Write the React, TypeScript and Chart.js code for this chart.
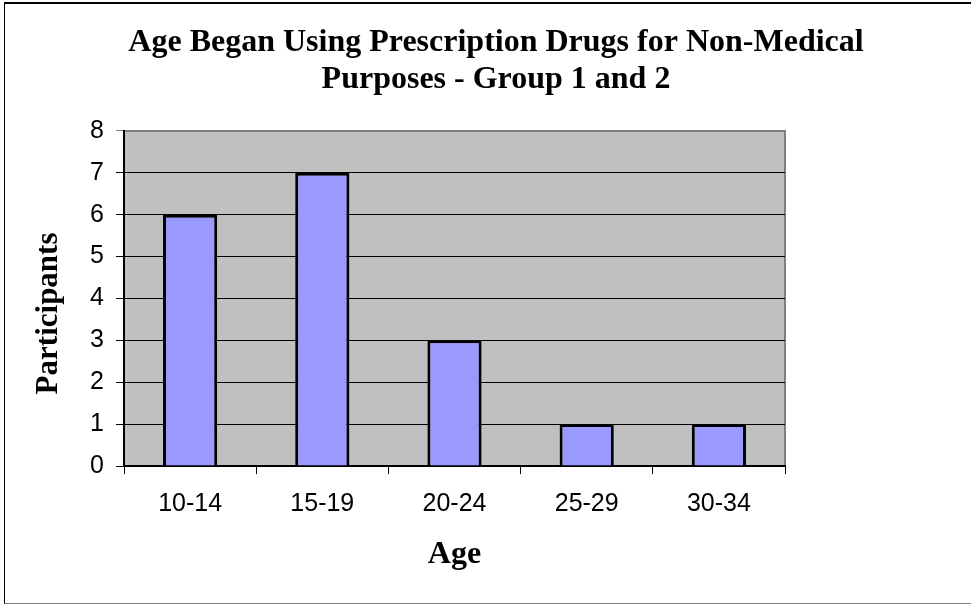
import React, { useEffect, useRef } from "react";
import { Chart, registerables } from "chart.js";

Chart.register(...registerables);

const categories = ["10-14", "15-19", "20-24", "25-29", "30-34"];
const participants = [6, 7, 3, 1, 1];
const yTicks = [0, 1, 2, 3, 4, 5, 6, 7, 8];
const titleLines = ["Age Began Using Prescription Drugs for Non-Medical", "Purposes - Group 1 and 2"];
const xTitle = "Age";
const yTitle = "Participants";

const SERIF = "'Liberation Serif', 'Times New Roman', serif";
const SANS = "'Liberation Sans', Arial, sans-serif";

const plotBg = {
  id: "plotBg",
  beforeDraw(chart: any) {
    const { ctx, chartArea } = chart;
    if (!chartArea) return;
    ctx.save();
    ctx.fillStyle = "#C0C0C0";
    ctx.fillRect(chartArea.left, chartArea.top, chartArea.right - chartArea.left, chartArea.bottom - chartArea.top);
    ctx.strokeStyle = "#808080";
    ctx.lineWidth = 2;
    ctx.beginPath();
    ctx.moveTo(chartArea.left, chartArea.top);
    ctx.lineTo(chartArea.right, chartArea.top);
    ctx.lineTo(chartArea.right, chartArea.bottom);
    ctx.stroke();
    ctx.restore();
  },
};

const yTitlePlugin = {
  id: "yTitlePlugin",
  afterDraw(chart: any) {
    const { ctx, chartArea } = chart;
    if (!chartArea) return;
    ctx.save();
    ctx.translate(49, (chartArea.top + chartArea.bottom) / 2 + 15);
    ctx.rotate(-Math.PI / 2);
    ctx.fillStyle = "#000";
    ctx.font = `bold 31px ${SERIF}`;
    ctx.textAlign = "center";
    ctx.textBaseline = "middle";
    ctx.fillText(yTitle, 0, 0);
    ctx.restore();
  },
};

export default function App() {
  const ref = useRef<HTMLCanvasElement>(null);
  useEffect(() => {
    const canvas = ref.current;
    if (!canvas) return;
    const chart = new Chart(canvas, {
      type: "bar",
      data: {
        labels: categories,
        datasets: [
          {
            data: participants,
            backgroundColor: "#9999FF",
            borderColor: "#000000",
            borderWidth: 3,
            categoryPercentage: 1,
            barPercentage: 0.41,
            yAxisID: "y",
          },
        ],
      },
      options: {
        animation: false,
        responsive: false,
        maintainAspectRatio: false,
        layout: { padding: { left: 21, right: 0, top: 0, bottom: 0 } },
        plugins: {
          legend: { display: false },
          tooltip: { enabled: false },
          title: {
            display: true,
            text: titleLines,
            color: "#000",
            font: { family: SERIF, size: 32, weight: "bold", lineHeight: 1.17 },
            padding: { top: 24, bottom: 32 },
          },
        },
        scales: {
          x: {
            grid: {
              offset: true,
              drawOnChartArea: false,
              drawTicks: true,
              tickLength: 8,
              color: "#000",
              lineWidth: 1,
            },
            border: { display: true, color: "#000", width: 2 },
            ticks: {
              color: "#000",
              padding: 15,
              font: { family: SANS, size: 25 },
            },
            title: {
              display: true,
              text: xTitle,
              color: "#000",
              font: { family: SERIF, size: 32, weight: "bold" },
              padding: { top: 0, bottom: 31 },
            },
            afterFit: (s: any) => {
              s.height = 139;
            },
          },
          y: {
            min: 0,
            max: 8,
            afterBuildTicks: (s: any) => {
              s.ticks = yTicks.map((v) => ({ value: v }));
            },
            grid: {
              drawTicks: true,
              tickLength: 8,
              color: (c: any) => (c.tick && c.tick.value === 8 ? "#808080" : "#000"),
              lineWidth: 1,
            },
            border: { display: true, color: "#000", width: 2 },
            ticks: {
              color: "#000",
              padding: 12,
              font: { family: SANS, size: 25 },
            },
            title: { display: false },
            afterFit: (s: any) => {
              s.width = 103;
            },
          },
          yRight: {
            type: "linear",
            position: "right",
            display: true,
            grid: { display: false, drawTicks: false },
            border: { display: false },
            ticks: { display: false },
            afterFit: (s: any) => {
              s.width = 186;
            },
          },
        },
      },
      plugins: [plotBg, yTitlePlugin],
    } as any);
    return () => chart.destroy();
  }, []);

  return (
    <div style={{ position: "fixed", left: 0, top: 0, width: 971, height: 605, background: "#fff" }}>
      <div
        style={{
          position: "absolute",
          left: 4,
          top: 2,
          width: 980,
          height: 602,
          boxSizing: "border-box",
          borderLeft: "1px solid #000",
          borderTop: "2px solid #000",
          borderBottom: "1px solid #808080",
        }}
      />
      <canvas ref={ref} width={971} height={605} style={{ position: "absolute", left: 0, top: 0, width: 971, height: 605 }} />
    </div>
  );
}
